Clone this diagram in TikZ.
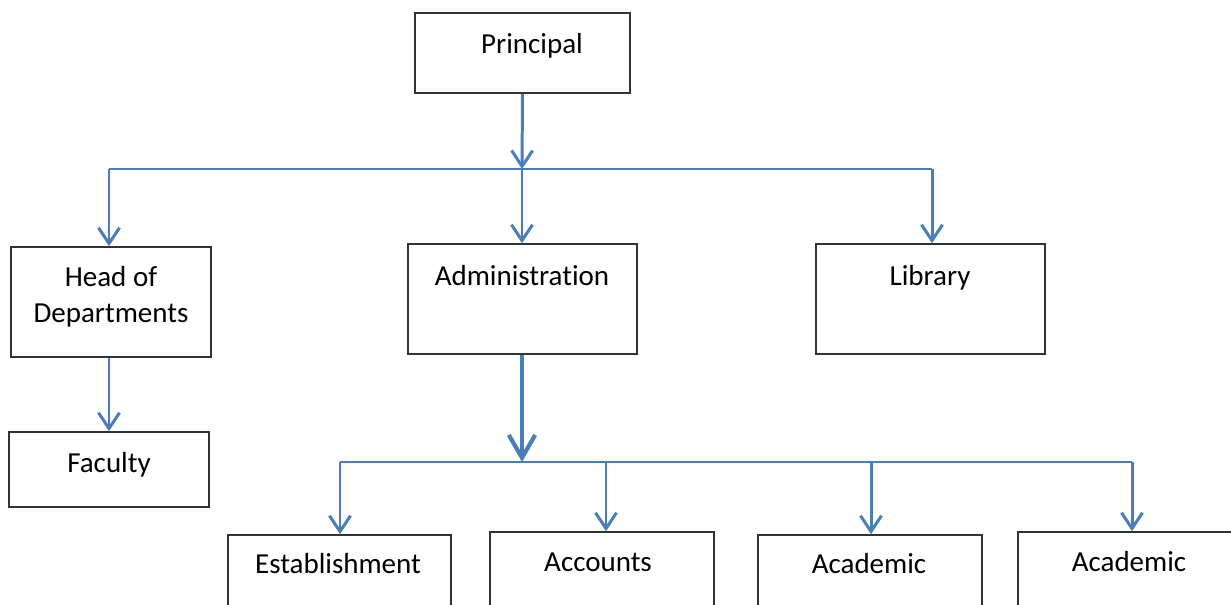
\documentclass[tikz,border=0pt]{standalone}
\usepackage{fontspec}
\setmainfont[Ligatures=NoCommon]{Carlito}
\usepackage{tikz}
\usepackage{xcolor}
\usetikzlibrary{arrows.meta}
\definecolor{line-blue}{HTML}{4A7EBB}
\tikzset{
    org-box/.style = {draw=black!80, line width=0.9pt, rectangle, inner sep=0pt, minimum height=2.2cm},
    org-text/.style = {font=\fontsize{16.5}{20.7}\selectfont, inner sep=0pt, anchor=base, align=center},
    branch-line/.style = {draw=line-blue, line width=1.7pt},
    branch-arrow/.style = {branch-line, -{Straight Barb[length=9pt, width=12pt]}},
    main-arrow/.style = {branch-line, line width=2.4pt, -{Straight Barb[length=13pt, width=15pt]}},
}

\begin{document}
\begin{tikzpicture}[x=0.02cm, y=-0.02cm]
\useasboundingbox (0,0) rectangle (1231,605);

\node[org-box, minimum width=4.3cm, minimum height=1.6cm] (principal) at (522.5,53) {};
\node[org-text] (principal-label) at (532,53) {Principal};

\node[org-box, minimum width=4cm] (hod) at (111,302) {};
\node[org-text, anchor=center] (hod-label) at (111,297) {Head of\\Departments};

\node[org-box, minimum width=4.58cm] (admin) at (522.5,299) {};
\node[org-text] (admin-label) at (522,285) {Administration};

\node[org-box, minimum width=4.58cm] (library) at (930.5,299) {};
\node[org-text] (library-label) at (930,285) {Library};

\node[org-box, minimum width=4cm, minimum height=1.5cm] (faculty) at (109,469.5) {};
\node[org-text] (faculty-label) at (109,472) {Faculty};

\node[org-box, minimum width=4.46cm] (establishment) at (339.5,590) {};
\node[org-text] (establishment-label) at (338,573) {Establishment};

\node[org-box, minimum width=4.48cm] (accounts) at (602,587) {};
\node[org-text] (accounts-label) at (598,571) {Accounts};

\node[org-box, minimum width=4.48cm] (academic-a) at (870,590) {};
\node[org-text] (academic-a-label) at (869,573) {Academic};

\node[org-box, minimum width=4.48cm] (academic-b) at (1130,587) {};
\node[org-text] (academic-b-label) at (1129,571) {Academic};

\coordinate (top-split) at (522,169);
\coordinate (hod-turn) at (109,169);
\coordinate (library-turn) at (932,169);
\draw[branch-arrow] (principal.south) -- (top-split);
\draw[branch-line] (hod-turn) -- (library-turn);
\draw[branch-arrow] (hod-turn) -- (hod-turn |- hod.north);
\draw[branch-arrow] (top-split) -- (top-split |- admin.north);
\draw[branch-arrow] (library-turn) -- (library-turn |- library.north);
\draw[branch-arrow] (hod.south -| hod-turn) -- (hod-turn |- faculty.north);

\coordinate (low-split) at (522,462);
\coordinate (establishment-turn) at (340,462);
\coordinate (accounts-turn) at (606,462);
\coordinate (academic-a-turn) at (871,462);
\coordinate (academic-b-turn) at (1132,462);
\draw[main-arrow] (admin.south -| low-split) -- (low-split);
\draw[branch-line] (establishment-turn) -- (academic-b-turn);
\draw[branch-arrow] (establishment-turn) -- (establishment-turn |- establishment.north);
\draw[branch-arrow] (accounts-turn) -- (accounts-turn |- accounts.north);
\draw[branch-arrow] (academic-a-turn) -- (academic-a-turn |- academic-a.north);
\draw[branch-arrow] (academic-b-turn) -- (academic-b-turn |- academic-b.north);
\end{tikzpicture}
\end{document}
